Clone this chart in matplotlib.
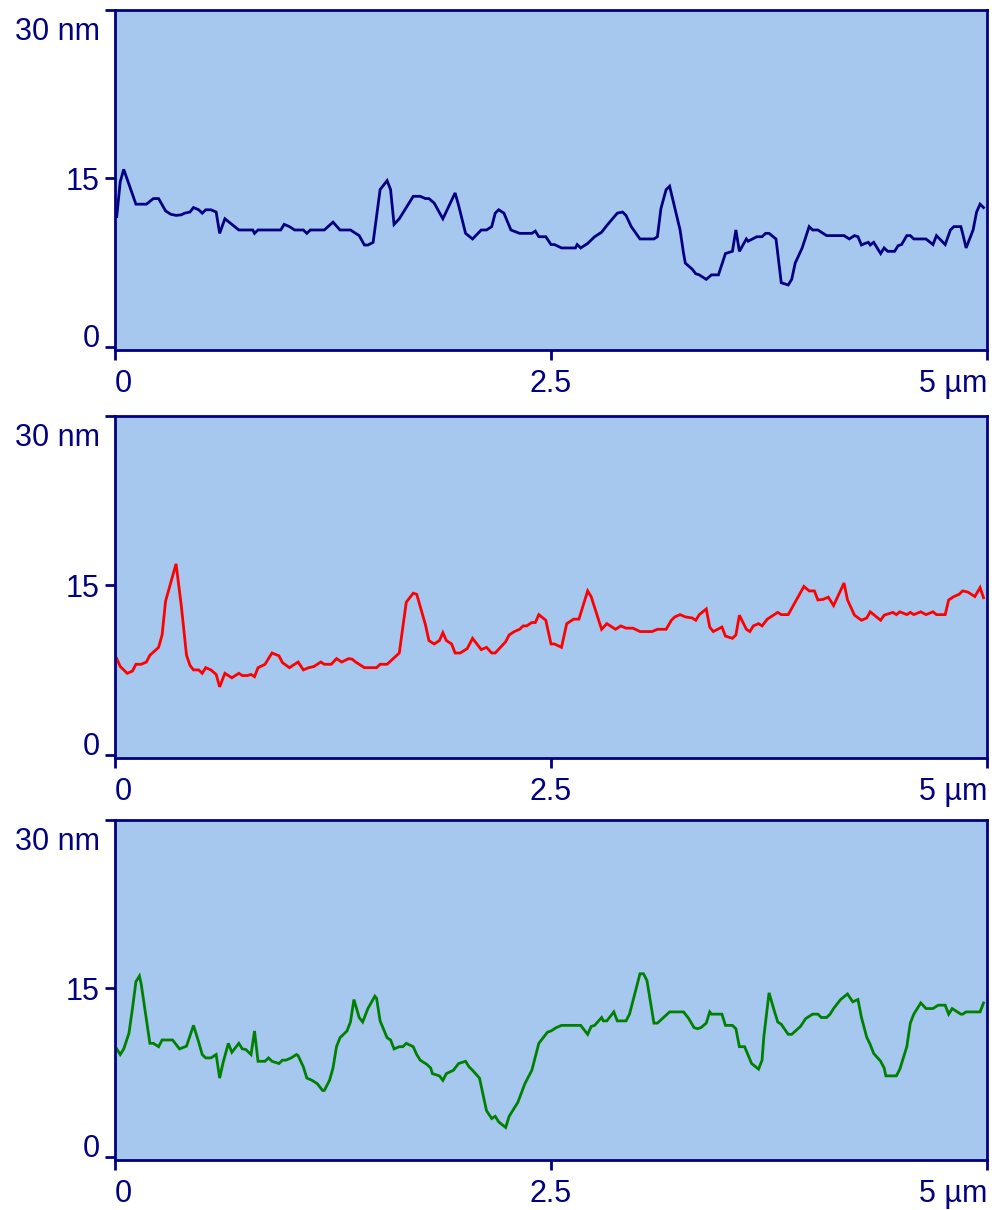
import matplotlib.pyplot as plt
from matplotlib.transforms import ScaledTranslation

plt.rcParams['font.family'] = ['Liberation Sans', 'DejaVu Sans']

# Height profiles (x in µm, height in nm)
x_top = [0.01, 0.03, 0.05, 0.12, 0.18, 0.22, 0.25, 0.29, 0.32, 0.35, 0.38, 0.40, 0.43, 0.45, 0.48,
         0.50, 0.52, 0.55, 0.58, 0.60, 0.63, 0.71, 0.79, 0.80, 0.82, 0.95, 0.97, 1.00, 1.03, 1.08,
         1.10, 1.12, 1.20, 1.25, 1.29, 1.35, 1.38, 1.40, 1.43, 1.45, 1.48, 1.52, 1.56, 1.58, 1.60,
         1.63, 1.71, 1.75, 1.78, 1.80, 1.83, 1.88, 1.95, 1.97, 2.01, 2.05, 2.10, 2.13, 2.16, 2.18,
         2.20, 2.23, 2.27, 2.32, 2.39, 2.41, 2.43, 2.47, 2.50, 2.52, 2.56, 2.64, 2.65, 2.67, 2.71,
         2.75, 2.79, 2.82, 2.88, 2.91, 2.93, 2.96, 3.01, 3.09, 3.11, 3.13, 3.16, 3.18, 3.24, 3.26,
         3.27, 3.31, 3.33, 3.35, 3.39, 3.42, 3.46, 3.50, 3.54, 3.56, 3.58, 3.62, 3.63, 3.68, 3.71,
         3.73, 3.75, 3.79, 3.82, 3.86, 3.88, 3.90, 3.94, 3.98, 4.00, 4.03, 4.08, 4.18, 4.21, 4.24,
         4.26, 4.28, 4.30, 4.32, 4.33, 4.35, 4.39, 4.41, 4.43, 4.47, 4.49, 4.51, 4.54, 4.56, 4.58,
         4.65, 4.69, 4.71, 4.76, 4.79, 4.81, 4.85, 4.86, 4.88, 4.92, 4.94, 4.96, 4.98]
h_top = [11.6, 14.7, 15.8, 12.7, 12.7, 13.2, 13.2, 12.1, 11.8, 11.7, 11.75, 11.9, 12.0, 12.4, 12.2,
         11.9, 12.2, 12.2, 12.0, 10.1, 11.4, 10.4, 10.4, 10.1, 10.4, 10.4, 10.9, 10.7, 10.4, 10.4,
         10.1, 10.4, 10.4, 11.1, 10.4, 10.4, 10.1, 9.9, 9.06, 9.06, 9.3, 14.0, 14.8, 14.0, 10.9,
         11.4, 13.4, 13.4, 13.2, 13.2, 12.8, 11.4, 13.7, 12.6, 10.1, 9.6, 10.4, 10.4, 10.7, 11.9,
         12.2, 11.9, 10.4, 10.1, 10.1, 10.3, 9.8, 9.8, 9.1, 9.1, 8.8, 8.8, 9.1, 8.8, 9.2,
         9.8, 10.2, 10.8, 11.9, 12.0, 11.7, 10.7, 9.6, 9.6, 9.8, 12.3, 14.0, 14.3, 10.4, 8.3,
         7.45, 6.9, 6.5, 6.4, 6.0, 6.4, 6.4, 8.3, 8.5, 10.4, 8.5, 9.6, 9.4, 9.8, 9.8,
         10.1, 10.1, 9.6, 5.7, 5.5, 6.0, 7.45, 8.8, 10.7, 10.4, 10.4, 9.9, 9.9, 9.6, 9.9,
         9.8, 9.06, 9.2, 9.3, 9.06, 9.3, 8.3, 8.8, 8.5, 8.5, 9.0, 9.1, 9.9, 9.9, 9.6,
         9.6, 9.1, 9.9, 9.1, 10.4, 10.7, 10.7, 10.1, 8.8, 10.4, 12.0, 12.7, 12.4]

x_mid = [0.01, 0.03, 0.07, 0.10, 0.12, 0.15, 0.18, 0.20, 0.25, 0.27, 0.29, 0.35, 0.38, 0.41, 0.43,
         0.45, 0.48, 0.50, 0.52, 0.55, 0.58, 0.60, 0.63, 0.67, 0.71, 0.73, 0.76, 0.78, 0.80, 0.82,
         0.86, 0.90, 0.94, 0.96, 1.00, 1.05, 1.08, 1.11, 1.14, 1.18, 1.20, 1.24, 1.27, 1.30, 1.34,
         1.36, 1.38, 1.40, 1.43, 1.50, 1.52, 1.56, 1.63, 1.67, 1.71, 1.73, 1.78, 1.80, 1.83, 1.86,
         1.88, 1.90, 1.93, 1.95, 1.98, 2.02, 2.05, 2.10, 2.13, 2.16, 2.18, 2.24, 2.26, 2.29, 2.32,
         2.34, 2.36, 2.39, 2.41, 2.43, 2.47, 2.50, 2.52, 2.56, 2.59, 2.63, 2.66, 2.68, 2.71, 2.73,
         2.79, 2.82, 2.87, 2.90, 2.93, 2.97, 3.01, 3.08, 3.11, 3.16, 3.19, 3.21, 3.24, 3.27, 3.31,
         3.33, 3.35, 3.39, 3.41, 3.43, 3.48, 3.50, 3.54, 3.56, 3.58, 3.62, 3.64, 3.66, 3.69, 3.71,
         3.74, 3.77, 3.80, 3.82, 3.86, 3.95, 3.98, 4.01, 4.03, 4.06, 4.09, 4.12, 4.18, 4.20, 4.24,
         4.28, 4.31, 4.33, 4.39, 4.41, 4.44, 4.46, 4.48, 4.50, 4.54, 4.56, 4.58, 4.62, 4.65, 4.69,
         4.71, 4.76, 4.78, 4.81, 4.84, 4.86, 4.89, 4.93, 4.96, 4.98]
h_mid = [8.5, 7.8, 7.2, 7.4, 8.0, 8.0, 8.2, 8.8, 9.5, 10.6, 13.6, 16.9, 13.2, 8.8, 7.9,
         7.5, 7.5, 7.2, 7.7, 7.5, 7.1, 6.0, 7.2, 6.8, 7.2, 7.0, 7.0, 7.1, 6.9, 7.7,
         8.0, 9.0, 8.75, 8.15, 7.7, 8.2, 7.5, 7.7, 7.8, 8.2, 8.0, 8.0, 8.5, 8.2, 8.5,
         8.45, 8.2, 8.0, 7.7, 7.7, 8.0, 8.0, 9.0, 13.5, 14.3, 14.2, 11.5, 10.1, 9.8, 10.1,
         10.8, 10.1, 9.8, 9.0, 9.0, 9.4, 10.3, 9.3, 9.5, 9.0, 9.0, 10.0, 10.6, 10.9, 11.1,
         11.4, 11.4, 11.7, 11.7, 12.4, 11.9, 9.8, 9.8, 9.5, 11.6, 12.0, 12.0, 13.0, 14.5, 14.0,
         11.1, 11.6, 11.1, 11.4, 11.2, 11.2, 10.9, 10.9, 11.1, 11.1, 11.9, 12.2, 12.4, 12.2, 12.1,
         11.9, 12.4, 12.9, 11.3, 10.9, 11.3, 10.5, 10.3, 10.6, 12.35, 11.1, 10.9, 11.4, 11.6, 11.4,
         12.0, 12.3, 12.6, 12.4, 12.4, 14.9, 14.5, 14.5, 13.7, 13.75, 13.95, 13.2, 15.2, 13.7, 12.35,
         11.9, 12.1, 12.65, 11.9, 12.35, 12.5, 12.6, 12.4, 12.65, 12.4, 12.6, 12.4, 12.65, 12.4, 12.65,
         12.4, 12.4, 13.7, 14.0, 14.2, 14.5, 14.4, 14.0, 14.8, 13.9]

x_bot = [0.01, 0.03, 0.05, 0.08, 0.10, 0.12, 0.14, 0.15, 0.20, 0.22, 0.25, 0.27, 0.33, 0.37, 0.41,
         0.45, 0.48, 0.50, 0.52, 0.55, 0.58, 0.60, 0.62, 0.65, 0.67, 0.71, 0.73, 0.75, 0.78, 0.80,
         0.82, 0.86, 0.88, 0.90, 0.94, 0.96, 0.98, 1.01, 1.04, 1.05, 1.08, 1.10, 1.13, 1.16, 1.19,
         1.20, 1.23, 1.25, 1.27, 1.29, 1.33, 1.35, 1.37, 1.40, 1.42, 1.45, 1.49, 1.50, 1.52, 1.56,
         1.58, 1.60, 1.63, 1.65, 1.67, 1.71, 1.73, 1.75, 1.79, 1.81, 1.82, 1.86, 1.88, 1.90, 1.94,
         1.97, 2.01, 2.03, 2.05, 2.09, 2.13, 2.16, 2.18, 2.20, 2.24, 2.26, 2.31, 2.35, 2.39, 2.41,
         2.43, 2.48, 2.50, 2.53, 2.56, 2.67, 2.71, 2.73, 2.75, 2.79, 2.80, 2.82, 2.86, 2.88, 2.93,
         2.95, 3.01, 3.03, 3.05, 3.09, 3.11, 3.18, 3.26, 3.29, 3.32, 3.34, 3.36, 3.39, 3.41, 3.42,
         3.48, 3.50, 3.54, 3.56, 3.58, 3.61, 3.65, 3.69, 3.71, 3.72, 3.75, 3.78, 3.80, 3.82, 3.86,
         3.88, 3.93, 3.96, 4.00, 4.03, 4.05, 4.08, 4.10, 4.12, 4.16, 4.20, 4.23, 4.26, 4.28, 4.31,
         4.33, 4.35, 4.39, 4.41, 4.42, 4.48, 4.50, 4.54, 4.56, 4.58, 4.62, 4.65, 4.69, 4.72, 4.76,
         4.78, 4.80, 4.85, 4.86, 4.88, 4.96, 4.98]
h_bot = [9.6, 9.1, 9.6, 11.0, 13.2, 15.6, 16.1, 15.4, 10.1, 10.1, 9.8, 10.4, 10.4, 9.6, 9.85,
         11.7, 10.2, 9.1, 8.8, 8.8, 9.1, 7.0, 8.4, 10.1, 9.3, 10.1, 9.6, 9.55, 9.1, 11.2,
         8.5, 8.5, 8.8, 8.5, 8.3, 8.6, 8.6, 8.8, 9.1, 9.0, 8.0, 7.0, 6.8, 6.5, 5.9,
         5.9, 6.8, 7.9, 9.8, 10.6, 11.2, 12.0, 14.0, 12.4, 12.0, 13.2, 14.3, 14.1, 12.1, 10.6,
         10.4, 9.6, 9.8, 9.8, 10.1, 9.8, 9.1, 8.6, 8.2, 7.9, 7.4, 7.2, 6.8, 7.4, 7.7,
         8.3, 8.5, 8.0, 7.7, 7.0, 4.1, 3.4, 3.6, 3.1, 2.6, 3.6, 4.85, 6.5, 7.7, 8.9,
         10.1, 11.1, 11.2, 11.5, 11.7, 11.7, 10.9, 11.6, 11.7, 12.4, 12.1, 12.1, 12.9, 12.1, 12.1,
         12.7, 16.3, 16.3, 15.7, 11.9, 11.9, 12.9, 12.9, 12.3, 11.5, 11.4, 11.5, 11.9, 12.9, 12.7,
         12.7, 11.7, 11.7, 11.4, 9.8, 9.8, 8.3, 7.8, 8.6, 10.65, 14.6, 13.0, 12.0, 11.8, 10.9,
         10.9, 11.6, 12.3, 12.7, 12.7, 12.4, 12.4, 12.7, 13.2, 14.0, 14.5, 13.8, 14.0, 12.4, 10.65,
         10.0, 9.2, 8.5, 7.9, 7.2, 7.2, 7.8, 9.8, 11.9, 12.7, 13.7, 13.2, 13.2, 13.5, 13.5,
         12.7, 13.2, 12.7, 12.7, 12.9, 12.9, 13.7]

x_ticks = [0, 2.5, 5]
x_labels = ['0', '2.5', '5 µm']
y_ticks = [0, 15, 30]
y_labels = ['0', '15', '30 nm']

profiles = [(x_top, h_top, '#000080'), (x_mid, h_mid, '#ff0000'), (x_bot, h_bot, '#008000')]
panel_boxes = [[0.1157, 0.7107, 0.8773, 0.2810],
               [0.1157, 0.3736, 0.8773, 0.2826],
               [0.1157, 0.0413, 0.8773, 0.2810]]

navy = '#000080'
fig = plt.figure(figsize=(9.94, 12.10), dpi=100)
# top label sits a little below its tick, as in the reference
shift_down = ScaledTranslation(0, -5 / 72, fig.dpi_scale_trans)

for (xs, hs, col), box in zip(profiles, panel_boxes):
    ax = fig.add_axes(box)
    ax.set_facecolor('#a6c8ee')
    ax.plot(xs, hs, color=col, linewidth=2.0, solid_joinstyle='miter')
    ax.set_xlim(0, 5)
    ax.set_ylim(-0.3, 30)
    for s in ax.spines.values():
        s.set_color(navy)
        s.set_linewidth(2.0)
    ax.set_xticks(x_ticks, x_labels)
    ax.set_yticks(y_ticks, y_labels)
    ax.tick_params(direction='out', length=7, width=2.0, color=navy,
                   labelcolor=navy, labelsize=22)
    ax.tick_params(axis='x', pad=7)
    ax.tick_params(axis='y', pad=4)
    ylb = ax.get_yticklabels()
    ylb[0].set_verticalalignment('baseline')
    ylb[2].set_verticalalignment('top')
    ylb[2].set_transform(ylb[2].get_transform() + shift_down)
    xlb = ax.get_xticklabels()
    xlb[0].set_horizontalalignment('left')
    xlb[2].set_horizontalalignment('right')

plt.savefig('out.png', dpi=100, facecolor='white')
